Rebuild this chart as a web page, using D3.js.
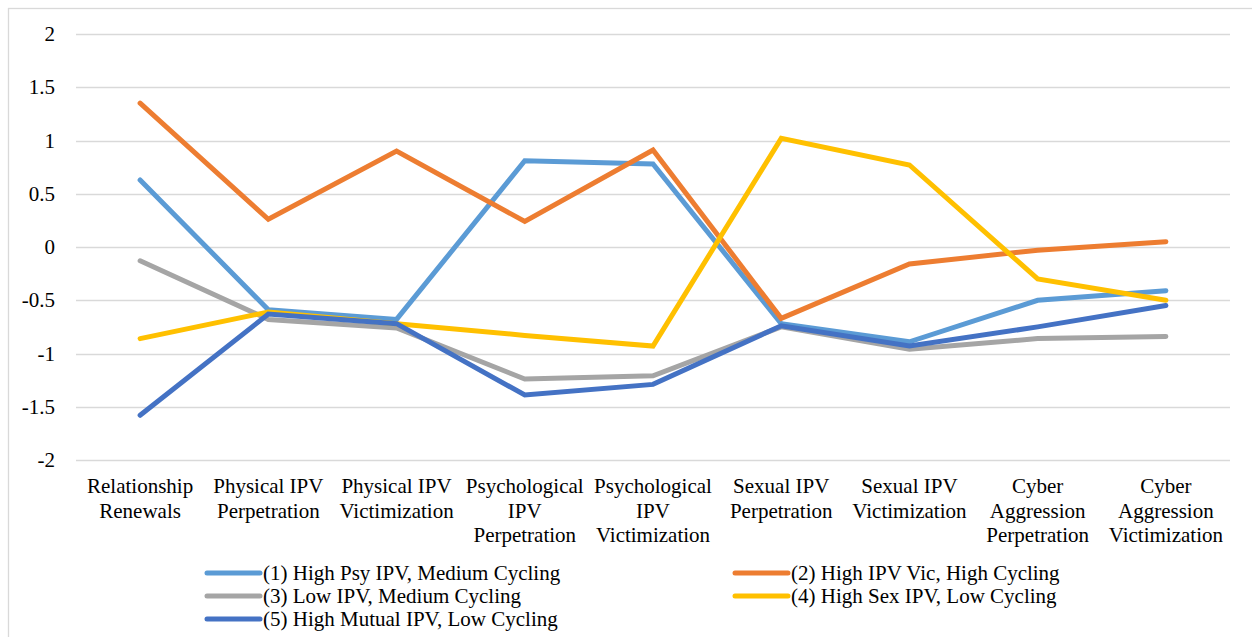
<!DOCTYPE html>
<html>
<head>
<meta charset="utf-8">
<script src="https://cdn.jsdelivr.net/npm/d3@7"></script>
<style>
  html, body { margin: 0; padding: 0; background: #fff; }
  svg { display: block; }
  text { font-family: "Liberation Serif", "Times New Roman", serif; fill: #000; }
</style>
</head>
<body>
<svg id="chart" width="1252" height="637"></svg>
<script>
const categories = [
  "Relationship\nRenewals",
  "Physical IPV\nPerpetration",
  "Physical IPV\nVictimization",
  "Psychological\nIPV\nPerpetration",
  "Psychological\nIPV\nVictimization",
  "Sexual IPV\nPerpetration",
  "Sexual IPV\nVictimization",
  "Cyber\nAggression\nPerpetration",
  "Cyber\nAggression\nVictimization"
];
const seriesNames = [
  "(1) High Psy IPV, Medium Cycling",
  "(2) High IPV Vic, High Cycling",
  "(3) Low IPV, Medium Cycling",
  "(4) High Sex IPV, Low Cycling",
  "(5) High Mutual IPV, Low Cycling"
];
const s1 = [0.63, -0.59, -0.68, 0.81, 0.78, -0.72, -0.89, -0.50, -0.41];
const s2 = [1.35, 0.26, 0.90, 0.24, 0.91, -0.67, -0.16, -0.03, 0.05];
const s3 = [-0.13, -0.68, -0.76, -1.24, -1.21, -0.75, -0.96, -0.86, -0.84];
const s4 = [-0.86, -0.61, -0.72, -0.83, -0.93, 1.02, 0.77, -0.30, -0.50];
const s5 = [-1.58, -0.63, -0.72, -1.39, -1.29, -0.74, -0.93, -0.75, -0.55];
const yTicks = [2, 1.5, 1, 0.5, 0, -0.5, -1, -1.5, -2];
const colors = ["#5B9BD5", "#ED7D31", "#A5A5A5", "#FFC000", "#4472C4"];

const allSeries = [s1, s2, s3, s4, s5];
const svg = d3.select("#chart");

// outer frame (partially off-canvas like reference)
svg.append("rect")
  .attr("x", 8.5).attr("y", 8.5)
  .attr("width", 1300).attr("height", 700)
  .attr("fill", "none").attr("stroke", "#d9d9d9").attr("stroke-width", 1.3);

const plotLeft = 76, plotRight = 1230, plotTop = 34, plotBottom = 460;
const x = d3.scaleBand().domain(categories).range([plotLeft, plotRight]);
const xc = c => x(c) + x.bandwidth() / 2;
const y = d3.scaleLinear().domain([-2, 2]).range([plotBottom, plotTop]);

// gridlines
svg.append("g").selectAll("line").data(yTicks).join("line")
  .attr("x1", plotLeft).attr("x2", plotRight)
  .attr("y1", d => Math.round(y(d)) + 0.5).attr("y2", d => Math.round(y(d)) + 0.5)
  .attr("stroke", "#d9d9d9").attr("stroke-width", 1.3);

// y tick labels (hyphen-minus, as in reference)
svg.append("g").selectAll("text").data(yTicks).join("text")
  .attr("x", 55).attr("y", d => y(d))
  .attr("dy", "0.34em")
  .attr("text-anchor", "end")
  .style("font-size", "21px")
  .text(d => String(d));

// x category labels
const xl = svg.append("g").selectAll("text").data(categories).join("text")
  .attr("text-anchor", "middle")
  .style("font-size", "21px");
xl.each(function(d) {
  const t = d3.select(this);
  d.split("\n").forEach((line, i) => {
    t.append("tspan").attr("x", xc(d)).attr("y", 493 + i * 24.5).text(line);
  });
});

// lines
const lineGen = d3.line()
  .x((d, i) => xc(categories[i]))
  .y(d => y(d));
svg.append("g").selectAll("path").data(allSeries).join("path")
  .attr("d", d => lineGen(d))
  .attr("fill", "none")
  .attr("stroke", (d, i) => colors[i])
  .attr("stroke-width", 5)
  .attr("stroke-linecap", "round")
  .attr("stroke-linejoin", "miter");

// legend
const legendPos = [
  {sx: 205, row: 0}, {sx: 733, row: 0},
  {sx: 205, row: 1}, {sx: 733, row: 1},
  {sx: 205, row: 2}
];
const lg = svg.append("g").selectAll("g").data(seriesNames).join("g")
  .attr("transform", (d, i) => `translate(${legendPos[i].sx},${573 + legendPos[i].row * 23})`);
lg.append("line")
  .attr("x1", 2).attr("x2", 55).attr("y1", 0).attr("y2", 0)
  .attr("stroke", (d, i) => colors[i])
  .attr("stroke-width", 5).attr("stroke-linecap", "round");
lg.append("text")
  .attr("x", 58).attr("y", 0).attr("dy", "0.34em")
  .style("font-size", "21px")
  .text(d => d);
</script>
</body>
</html>
